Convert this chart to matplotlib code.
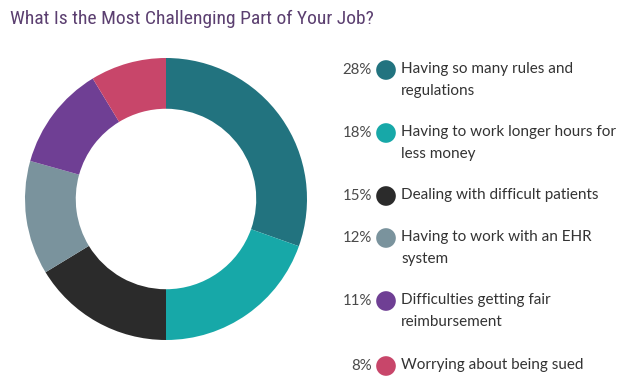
import matplotlib
matplotlib.use("Agg")
import matplotlib.pyplot as plt

W, H = 627, 382

# data
shares = [28, 18, 15, 12, 11, 8]
labels = [
    "Having so many rules and\nregulations",
    "Having to work longer hours for\nless money",
    "Dealing with difficult patients",
    "Having to work with an EHR\nsystem",
    "Difficulties getting fair\nreimbursement",
    "Worrying about being sued",
]
colors = ["#22737f", "#17a8a8", "#2b2b2b", "#7a939d", "#6f3f94", "#c8466a"]
title = "What Is the Most Challenging Part of Your Job?"

fig = plt.figure(figsize=(W / 100, H / 100), dpi=100)

def fx(px):
    return px / W

def fy(py):
    return 1 - py / H

# donut
cx, cy, r = 166, 199, 141
ax = fig.add_axes([fx(cx - r), fy(cy + r), 2 * r / W, 2 * r / H])
ax.pie(shares, colors=colors, startangle=90, counterclock=False,
       wedgeprops=dict(width=0.36, edgecolor="none"), radius=1)
ax.set_xlim(-1, 1)
ax.set_ylim(-1, 1)
ax.set_aspect("equal")
ax.axis("off")

fig.text(fx(10), fy(19), title, fontsize=14, color="#5b3f70",
         family=["Roboto Condensed", "Roboto"], va="center", ha="left")

# legend
row_y = [70, 133, 196, 238, 301, 366]
lax = fig.add_axes([0, 0, 1, 1])
lax.set_xlim(0, W)
lax.set_ylim(H, 0)
lax.axis("off")
for y, s, lab, c in zip(row_y, shares, labels, colors):
    lax.text(372, y, f"{s}%", ha="right", va="center", fontsize=10.8,
             color="#4a4a4a", family="Lato")
    lax.scatter([386], [y], s=200, color=c, edgecolors="none")
    lax.text(401, y - 8, lab, ha="left", va="top", fontsize=11,
             color="#333333", family="Lato", linespacing=1.75)

fig.savefig("out.png", dpi=100, facecolor="white")
